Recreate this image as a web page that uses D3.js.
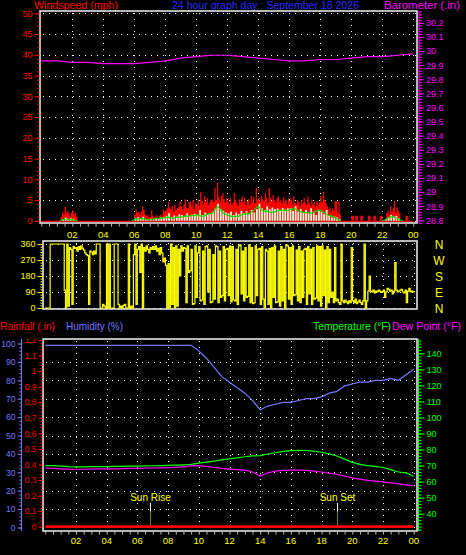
<!DOCTYPE html>
<html><head><meta charset="utf-8">
<script src="https://cdn.jsdelivr.net/npm/d3@7/dist/d3.min.js"></script>
<style>html,body{margin:0;background:#000;}svg{display:block;}</style>
</head><body>
<svg id="c" width="466" height="555"></svg>
<script>
// ---------------- DATA ----------------
const hourTicks = [2,4,6,8,10,12,14,16,18,20,22,24];
const hourLabels = ["02","04","06","08","10","12","14","16","18","20","22","00"];
const windTicks = [0,5,10,15,20,25,30,35,40,45,50];
const baroTicks = [28.8,28.9,29.0,29.1,29.2,29.3,29.4,29.5,29.6,29.7,29.8,29.9,30.0,30.1,30.2];
const baroLabels = ["28.8","28.9","29","29.1","29.2","29.3","29.4","29.5","29.6","29.7","29.8","29.9","30","30.1","30.2"];
const dirTicks = [0,90,180,270,360];
const compassLabels = ["N","W","S","E","N"];
const humTicks = [0,10,20,30,40,50,60,70,80,90,100];
const rainTicks = [0,0.1,0.2,0.3,0.4,0.5,0.6,0.7,0.8,0.9,1.0,1.1,1.2];
const rainLabels = ["0","0.1","0.2","0.3","0.4","0.5","0.6","0.7","0.8","0.9","1","1.1","1.2"];
const tempTicks = [40,50,60,70,80,90,100,110,120,130,140];

const titleTop = ["Windspeed (mph)","24 hour graph day : September 18 2026","Barometer (.in)"];
const titleBottom = ["Rainfall (.in)","Humidity (%)","Temperature (°F)","Dew Point (°F)"];
const sunLabels = ["Sun Rise","Sun Set"];
const sunHours = [6.82, 19.03];

// barometer, hourly 00..24 (inHg)
const barometer = [29.93,29.93,29.92,29.92,29.91,29.91,29.91,29.92,29.93,29.95,29.96,29.97,29.97,29.96,29.95,29.94,29.93,29.93,29.94,29.94,29.95,29.96,29.96,29.97,29.98];

// wind gust, 5-minute samples (mph)
const windGust = [
0,0,0,0,0,0,0,0,0,0,0,0,
0,0,0,1.0,2.2,1.5,3.3,2.0,2.4,1.8,1.0,2.0,
2.5,1.5,2.0,1.0,0,0,0,0,0,0,0,0,
0,0,0,0,0,0,0,0,0,0,0,0,
0,0,0,0,0,0,0,0,0,0,0,0,
0,0,0,0,0,0,0,0,0,0,0,0,
1.4,2.7,2.0,2.1,1.5,2.2,3.5,2.6,1.5,1.2,1.4,0.8,
1.0,2.5,1.2,0.8,1.0,1.4,0.6,1.2,1.5,1.0,2.7,2.2,
2.5,3.0,4.6,3.2,2.8,3.5,2.2,3.8,2.6,3.0,3.4,4.6,
3.5,2.8,4.0,5.2,3.2,3.0,4.5,4.6,3.6,5.0,2.9,4.2,
4.0,5.2,3.6,7.0,4.8,3.9,5.9,4.5,5.5,3.8,4.6,5.0,
5.2,4.5,7.9,5.0,9.2,5.8,4.6,6.0,6.7,5.2,4.4,5.5,
4.8,4.0,5.5,3.8,4.4,6.7,5.0,4.2,3.6,5.2,4.5,5.8,
4.5,5.5,3.8,4.8,5.2,4.0,6.0,4.6,5.8,4.2,7.9,5.0,
5.5,4.6,6.0,5.2,4.8,6.7,5.5,4.4,7.9,5.6,4.8,6.2,
5.0,4.4,5.5,5.9,4.6,5.0,4.2,5.6,4.8,5.2,4.0,5.4,
4.8,5.2,4.0,5.9,4.4,3.8,5.0,4.6,3.6,4.9,4.2,5.5,
4.4,3.8,5.9,4.2,3.6,5.0,4.0,4.6,3.4,4.8,3.9,4.5,
6.0,4.5,7.0,5.0,4.3,3.5,2.8,3.2,2.2,3.0,2.5,4.7,
4.7,2.0,4.6,1.5,0,0,0,0,0,0,0,0,
1.2,1.2,0,1.2,1.2,0,0,1.2,1.2,0,0,0,
0,1.2,1.2,0,0,1.2,1.2,0,0,0,1.2,1.2,
0,0,0,1.8,2.5,1.5,3.5,2.2,3.0,4.7,2.0,3.2,
2.5,1.8,0,0,0,0,1.2,1.2,0,0,0,0];

// wind speed, 10-minute samples (mph)
const windSpeed = [
0,0,0,0,0,0,  0,0,0.4,0.8,0.5,0.6,  0.5,0,0,0,0,0,  0,0,0,0,0,0,
0,0,0,0,0,0,  0,0,0,0,0,0,  0.6,0.9,0.5,1.0,0.4,0.3,  0.5,0.3,0.6,0.4,0.8,0.9,
1.2,1.8,0.9,1.3,1.0,1.6,  1.4,1.0,1.8,1.2,1.5,1.7,  1.5,2.6,1.4,2.0,1.6,1.9,  2.2,3.0,4.1,2.8,2.4,2.0,
1.8,2.2,1.4,2.0,1.6,2.4,  1.8,2.3,1.6,2.6,2.0,2.8,  4.1,3.0,2.6,3.5,2.8,3.2,  2.8,3.0,2.6,3.1,2.7,3.0,
3.0,2.4,3.5,2.2,2.8,2.0,  2.6,1.8,3.0,2.2,1.4,2.4,  2.2,1.6,2.6,1.2,0.8,1.0,  0.8,0.4,0,0,0,0,
0,0,0,0,0,0,  0,0,0,0,0,0,  0,0.4,0.8,1.4,1.0,1.2,  0.6,0,0,0,0,0];

// average wind speed, 10-minute samples 00:00..24:00 (mph)
const windAvg = [
0,0,0,0,0,0,  0,0,0.2,0.4,0.4,0.3,  0.3,0.1,0,0,0,0,  0,0,0,0,0,0,
0,0,0,0,0,0,  0,0,0,0,0,0,  0.3,0.5,0.4,0.6,0.4,0.3,  0.2,0.3,0.6,0.5,0.7,0.6,
0.8,0.9,0.7,0.6,0.8,0.9,  0.9,1.0,1.2,1.1,1.3,1.2,  1.4,1.3,1.0,1.2,1.5,1.7,  1.8,2.4,3.5,3.0,2.2,1.6,
1.4,1.2,1.0,1.1,1.0,1.3,  1.5,1.8,1.6,2.0,2.4,3.0,  3.5,2.8,2.2,2.4,2.2,2.0,  2.1,2.3,2.6,2.5,2.6,2.4,
2.6,2.8,3.0,2.6,2.3,2.1,  2.0,1.9,2.0,1.8,2.2,2.5,  2.6,2.2,1.7,1.4,1.2,1.0,  0.6,0.2,0,0,0,0,
0,0,0,0,0,0,  0,0,0,0,0,0,  0,0.2,0.6,0.9,1.0,0.8,  0.5,0.2,0,0,0,0,  0];

// wind direction, 5-minute samples 00:00..24:00 (degrees)
const windDir = [
0,0,0,0,360,360,360,360,360,360,360,360,
360,360,360,100,0,360,10,340,330,20,345,335,
340,320,345,330,350,335,325,310,300,295,20,320,
315,300,320,305,360,360,360,0,0,20,10,0,
360,0,360,0,0,0,360,360,360,20,0,10,
0,15,20,0,0,360,0,10,0,300,360,20,
330,345,200,360,0,340,320,350,330,310,340,330,
345,330,350,320,335,300,340,310,260,280,240,0,
250,0,360,20,340,0,350,10,330,180,350,320,
340,335,30,350,200,210,330,20,25,350,60,310,
345,40,45,320,20,345,350,90,330,30,35,300,
50,350,345,30,320,60,70,345,40,330,335,70,
350,35,345,45,40,330,20,350,355,80,320,40,
340,60,65,355,30,340,25,30,350,70,330,335,
20,345,50,0,330,320,20,335,0,340,60,350,
30,35,320,10,345,40,330,0,355,350,50,340,
20,350,70,75,325,40,345,30,320,60,330,335,
20,345,80,330,20,340,50,55,350,40,345,10,
350,70,325,0,345,30,330,60,90,30,340,40,
50,30,20,360,40,30,45,35,25,40,30,340,
40,30,50,25,35,45,30,20,40,360,0,40,
95,180,95,90,100,85,95,90,100,95,88,92,
100,60,90,110,105,95,100,80,95,255,100,90,
95,100,105,90,85,100,30,95,110,90,95,90,
95];

// half-hourly 00:00..24:00
const humidity = [99,99,99,99,99,99,99,99,99,99,99,99,99,99,99,99,99,99,99,99,
96,92,87,82,79,76,73,69,64,66,67,68,68,69,70,70,71,73,74,77,78,79,79,80,80,81,80,83,86];
const temperature = [70.0,70.0,69.6,69.3,69.2,69.2,69.3,69.3,69.4,69.5,69.5,69.6,69.7,69.8,69.9,70.0,70.1,70.3,70.5,70.8,
71.5,72.2,72.8,73.5,74.2,74.8,75.5,76.0,76.2,77.2,78.0,78.8,79.3,79.5,79.4,79.0,78.3,77.3,76.0,74.0,
72.0,70.8,70.0,69.5,68.8,67.5,66.0,65.5,63.3];
const dewPoint = [68.5,68.3,68.0,67.8,67.7,67.7,67.8,67.9,68.0,68.0,68.1,68.2,68.3,68.4,68.5,68.6,68.7,68.9,69.2,69.8,
70.0,69.5,68.8,68.2,67.8,67.5,67.2,66.0,63.5,65.5,66.5,67.0,67.2,67.2,67.0,66.6,66.0,65.2,64.5,63.5,
62.3,61.5,60.8,60.3,59.8,59.2,58.6,58.0,57.5];
// hourly rainfall 00..24
const rainfall = [0,0,0,0,0,0,0,0,0,0,0,0,0,0,0,0,0,0,0,0,0,0,0,0,0];

// ---------------- DRAW ----------------
const FONT = '"Liberation Sans", Arial, sans-serif';
const RED="#ff0000", BLUE="#2b2bff", MAG="#ff00ff", YEL="#ffff00", HUM="#7777ff", GRN="#00ff00";
const svg = d3.select("#c").style("font-family", FONT);
svg.append("rect").attr("width",466).attr("height",555).attr("fill","#000");

const xTop = d3.scaleLinear().domain([0,24]).range([41.3,413.3]);
const xMid = d3.scaleLinear().domain([0,24]).range([45,414]);
const xBot = d3.scaleLinear().domain([0,24]).range([45.3,413.7]);
const yWind = d3.scaleLinear().domain([0,50]).range([220.8,13.3]);
const yBaro = d3.scaleLinear().domain([28.8,30.2]).range([220.3,22.8]);
const yDir = d3.scaleLinear().domain([0,360]).range([308,244]);
const yHum = d3.scaleLinear().domain([0,100]).range([527.5,343.5]);
const yRain = d3.scaleLinear().domain([0,1.2]).range([526.7,340]);
const yTemp = d3.scaleLinear().domain([40,140]).range([513.7,353.3]);

const P = {
  top:{x0:40,x1:417,y0:11,y1:223,x:xTop},
  mid:{x0:43,x1:417,y0:241,y1:309,x:xMid},
  bot:{x0:43,x1:417,y0:339,y1:531,x:xBot}
};

// headers
function header(texts, specs, y){
  texts.forEach((t,i)=>{
    svg.append("text").text(t).attr("x",specs[i][0]).attr("y",y)
      .attr("fill",specs[i][2]).attr("font-size",10.5)
      .attr("textLength",specs[i][1]).attr("lengthAdjust","spacingAndGlyphs");
  });
}
header(titleTop, [[34,84,RED],[172,187,BLUE],[384,76,MAG]], 9);
header(titleBottom, [[0,55,RED],[66,57,HUM],[313,78,GRN],[392,69,MAG]], 330);

// grids
function grid(p, yScale, yVals){
  const g = svg.append("g").attr("stroke","#ffffff").attr("stroke-dasharray","1,5")
    .attr("shape-rendering","crispEdges");
  hourTicks.forEach(h=>{
    const x = Math.round(p.x(h))+0.5;
    g.append("line").attr("x1",x).attr("x2",x).attr("y1",p.y0+2).attr("y2",p.y1);
  });
  yVals.forEach(v=>{
    const y = Math.round(yScale(v))+0.5;
    g.append("line").attr("x1",p.x0+3).attr("x2",p.x1).attr("y1",y).attr("y2",y);
  });
}
grid(P.top, yWind, windTicks);
grid(P.mid, yDir, dirTicks);
grid(P.bot, yHum, humTicks.filter(v=>v>0 && v<100));

// borders
Object.values(P).forEach(p=>{
  svg.append("rect").attr("x",p.x0).attr("y",p.y0).attr("width",p.x1-p.x0).attr("height",p.y1-p.y0)
    .attr("fill","none").attr("stroke","#e4e4e4").attr("stroke-width",1.6);
});

// y-axes
function yAxis(scale, x, side, major, labels, minor, color, fs, majorLen, minorLen, domain, clip){
  const g = svg.append("g").attr("transform",`translate(${x},0)`);
  const mk = side==="left" ? d3.axisLeft : d3.axisRight;
  const gm = g.append("g").call(mk(scale).tickValues(minor).tickSize(minorLen).tickSizeOuter(0).tickFormat(""));
  const gM = g.append("g").call(mk(scale).tickValues(major).tickSize(majorLen).tickSizeOuter(0).tickPadding(2)
      .tickFormat((d,i)=>labels[i]));
  [gm,gM].forEach(a=>{
    a.select(".domain").remove();
    a.selectAll("line").attr("stroke",color);
  });
  gM.selectAll("text").attr("fill",color).attr("font-size",fs).attr("font-family",FONT);
  if (clip) gM.attr("clip-path","url(#"+clip+")");
  if (domain) g.append("line").attr("x1",0).attr("x2",0).attr("y1",domain[0]).attr("y2",domain[1]).attr("stroke",color);
}
const defs = svg.append("defs");
defs.append("clipPath").attr("id","clipBot").append("rect").attr("x",-60).attr("y",338.5).attr("width",120).attr("height",220);

yAxis(yWind, 39.5, "left", windTicks, windTicks.map(String), d3.range(0,51,1), RED, 9, 5, 2);
yAxis(yBaro, 419, "right", baroTicks, baroLabels, d3.range(28.78,30.3,0.02), MAG, 9, 5, 3, [11,223]);
yAxis(yDir, 42.5, "left", dirTicks, dirTicks.map(String), d3.range(0,361,15), YEL, 9, 5, 2);
yAxis(yHum, 21.5, "left", humTicks, humTicks.map(String), d3.range(0,101,2), HUM, 8.5, 4, 2, [339,531]);
yAxis(yRain, 42.5, "left", rainTicks, rainLabels, d3.range(0,1.21,0.02), RED, 8.5, 4, 2, null, "clipBot");
yAxis(yTemp, 418.5, "right", tempTicks, tempTicks.map(String), d3.range(30,149,2), GRN, 9, 6, 3, [339,531]);

// compass letters
compassLabels.forEach((t,i)=>{
  svg.append("text").text(t).attr("x",439).attr("y",yDir(360-i*90)+5).attr("text-anchor","middle")
    .attr("fill",YEL).attr("font-size",12);
});

// x-axes (top & bottom)
function xAxis(scale, y, labelY){
  const g = svg.append("g").attr("transform",`translate(0,${y})`);
  g.call(d3.axisBottom(scale).tickValues(d3.range(0,24.01,0.5)).tickSize(3).tickSizeOuter(0).tickFormat(""));
  g.select(".domain").remove();
  g.selectAll("line").attr("stroke","#bbbbbb");
  hourTicks.forEach((h,i)=>{
    svg.append("text").text(hourLabels[i]).attr("x",scale(h)).attr("y",labelY)
      .attr("text-anchor","middle").attr("fill",YEL).attr("font-size",9.5);
  });
}
xAxis(xTop, 223.5, 237.7);
xAxis(xBot, 531.5, 543.5);

// ---- top panel series ----
svg.append("path").datum(windGust)
  .attr("d", d3.area().x((d,i)=>xTop(i/12)).y0(yWind(0)).y1(d=>yWind(d)).curve(d3.curveStepAfter))
  .attr("fill",RED);
svg.append("line").attr("x1",xTop(0)).attr("x2",xTop(24)).attr("y1",yWind(0)+0.5).attr("y2",yWind(0)+0.5)
  .attr("stroke",RED).attr("stroke-width",1.2);
const bw = xTop(1/6)-xTop(0);
svg.append("g").selectAll("rect").data(windSpeed).join("rect")
  .attr("x",(d,i)=>xTop(i/6)+0.3).attr("width",bw-0.8)
  .attr("y",d=>yWind(d)).attr("height",d=>yWind(0)-yWind(d))
  .attr("fill","#dcffdc");
svg.append("path").datum(windAvg)
  .attr("d", d3.line().defined((d,i,a)=>d>0||(a[i-1]||0)>0||(a[i+1]||0)>0)
    .x((d,i)=>xTop(i/6)).y(d=>yWind(d)))
  .attr("fill","none").attr("stroke","#00e000").attr("stroke-width",1.2);
svg.append("path").datum(barometer)
  .attr("d", d3.line().x((d,i)=>xTop(i)).y(d=>yBaro(d)))
  .attr("fill","none").attr("stroke",MAG).attr("stroke-width",1.2);

// ---- middle panel ----
svg.append("path").datum(windDir)
  .attr("d", d3.line().x((d,i)=>xMid(i/12)).y(d=>yDir(d)).curve(d3.curveStepAfter))
  .attr("fill","none").attr("stroke",YEL).attr("stroke-width",1.2);

// ---- bottom panel ----
const halfLine = s => d3.line().x((d,i)=>xBot(i/2)).y(d=>s(d));
svg.append("path").datum(humidity).attr("d",halfLine(yHum)).attr("fill","none").attr("stroke",HUM).attr("stroke-width",1.2);
svg.append("path").datum(temperature).attr("d",halfLine(yTemp)).attr("fill","none").attr("stroke",GRN).attr("stroke-width",1.2);
svg.append("path").datum(dewPoint).attr("d",halfLine(yTemp)).attr("fill","none").attr("stroke",MAG).attr("stroke-width",1.2);

// sun markers
sunHours.forEach((h,i)=>{
  const x = Math.round(xBot(h))+0.5;
  svg.append("text").text(sunLabels[i]).attr("x",x).attr("y",501).attr("text-anchor","middle")
    .attr("fill",YEL).attr("font-size",10);
  svg.append("line").attr("x1",x).attr("x2",x).attr("y1",503).attr("y2",511.5).attr("stroke","#fff");
  svg.append("line").attr("x1",x).attr("x2",x).attr("y1",511.5).attr("y2",526).attr("stroke",YEL).attr("stroke-dasharray","1,1");
});

svg.append("path").datum(rainfall)
  .attr("d", d3.line().x((d,i)=>xBot(i)).y(d=>yRain(d)))
  .attr("fill","none").attr("stroke",RED).attr("stroke-width",2.8);
</script>
</body></html>
